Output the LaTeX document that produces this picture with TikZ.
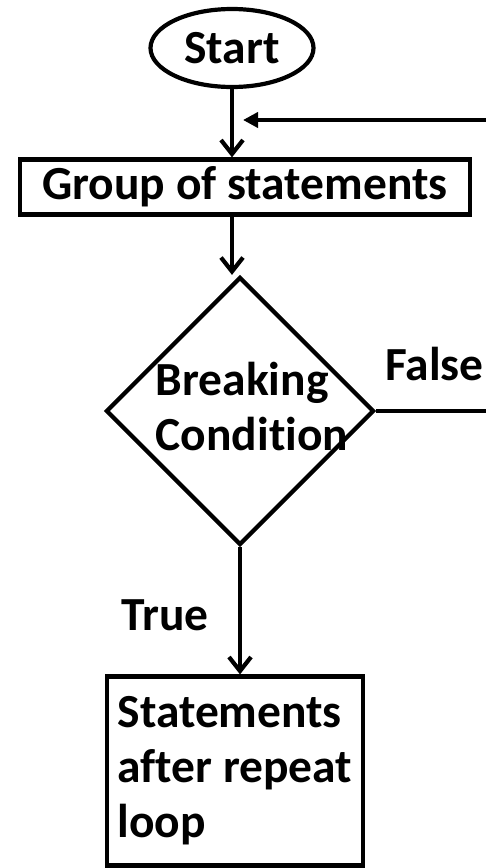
\documentclass[tikz,border=0pt]{standalone}
\usepackage{fontspec}
\setmainfont{Carlito}[Ligatures = NoCommon]
\usetikzlibrary{shapes.geometric, arrows.meta}
\tikzset{
    x = 1pt, y = 1pt,
    > = {Straight Barb[length=14pt, width=22pt]},
    every node/.style = {font = \fontsize{47.5}{55}\selectfont\bfseries},
    line/.style = {line width = 4.2pt},
    flow/.style = {line, ->},
    back/.style = {line, -{Triangle[length=15pt, width=15pt]}},
    terminal/.style = {ellipse, draw, line, minimum width = 163pt, minimum height = 78pt, inner sep = 0pt},
    process/.style = {rectangle, draw, line, inner sep = 0pt},
    decision/.style = {diamond, draw, line, minimum width = 268pt, minimum height = 268pt, inner sep = 0pt}
}

\begin{document}
\begin{tikzpicture}
    \useasboundingbox (0, 0) rectangle (486, -868);

    \node[terminal] (start) at (232, -48) {Start};
    \node[process, minimum width = 450pt, minimum height = 55pt] (group) at (245, -187) {Group of statements};
    \node[decision] (cond) at (240, -411) {};
    \node[align = left, inner sep = 0pt] (condtext) at ([xshift = 12pt, yshift = 4pt]cond.center) {Breaking\\Condition};
    \node[process, align = left, minimum width = 256pt, minimum height = 189pt] (after) at (235, -771) {Statements\\after repeat\\loop};

    \node[anchor = base west, inner sep = 0pt] (true) at (121, -630) {True};
    \node[anchor = base west, inner sep = 0pt] (false) at (385, -380) {False};

    \coordinate (loopin) at (486, -120);
    \coordinate (falseout) at (486, -411);

    \draw[flow] (start.south) -- (start.south |- group.north);
    \draw[flow] (start.south |- group.south) -- (start.south |- cond.north);
    \draw[flow] (cond.south) -- (cond.south |- after.north);
    \draw[line] (cond.east) -- (falseout);
    \draw[back] (loopin) -- ([xshift = 11pt]start.south |- loopin);
\end{tikzpicture}
\end{document}
